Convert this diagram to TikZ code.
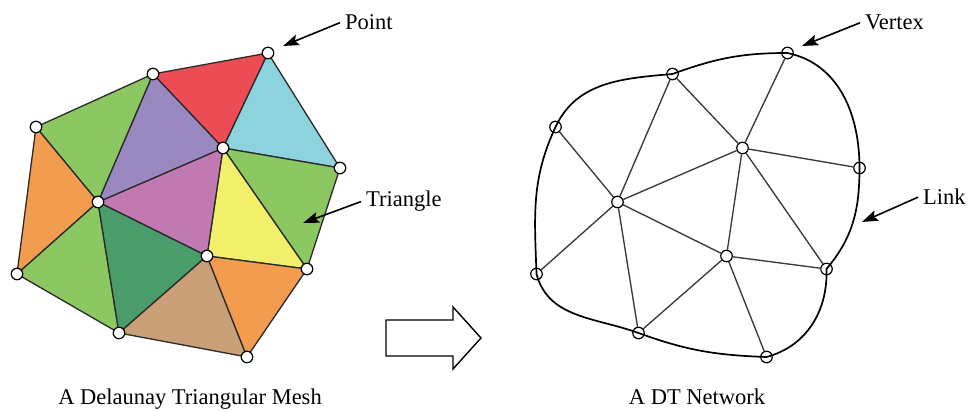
\documentclass[tikz,border=0pt]{standalone}
\usepackage{fontspec}
\setmainfont{Liberation Serif}
\usetikzlibrary{arrows.meta}
\definecolor{cRed}{HTML}{EC4D55}
\definecolor{cCyan}{HTML}{8DD3DE}
\definecolor{cLilac}{HTML}{9A89C0}
\definecolor{cLeaf}{HTML}{8CC862}
\definecolor{cOrange}{HTML}{F29C4F}
\definecolor{cMauve}{HTML}{C17AB1}
\definecolor{cLemon}{HTML}{F2EF6B}
\definecolor{cPine}{HTML}{4A9C6A}
\definecolor{cTan}{HTML}{C9A077}
\definecolor{cEdge}{HTML}{2A2A2A}
\definecolor{cLink}{HTML}{3A3A3A}
\tikzset{
    x=1pt, y=1pt, font=\fontsize{22.5}{27}\selectfont,
    tri/.style={draw=cEdge, line width=1.3pt, line join=round},
    pnt/.style={circle, draw=black, fill=white, line width=1.2pt,
                inner sep=0pt, minimum size=11.5pt},
    link/.style={draw=cLink, line width=1.35pt},
    rim/.style={draw=black, line width=1.7pt},
    callout/.style={-{Stealth[length=16pt, width=11pt, inset=3pt]},
                    line width=1.6pt},
    lbl/.style={inner xsep=5pt, inner ysep=0pt, anchor=base west},
    caption/.style={anchor=base, inner sep=0pt},
}

\begin{document}
\begin{tikzpicture}
    \useasboundingbox (0,0) rectangle (968,411);

    % mesh points
    \foreach \n/\x/\y in {1/268/358, 2/153/337, 3/36/284, 4/223/263,
            5/340/243, 6/98/209, 7/17/137, 8/207/155, 9/307/142,
            10/119/78, 11/247/54}
        \coordinate (c\n) at (\x,\y);

    \foreach \i/\j/\k/\col in {2/1/4/cRed, 1/5/4/cCyan, 4/5/9/cLeaf,
            4/9/8/cLemon, 6/4/8/cMauve, 2/4/6/cLilac, 3/2/6/cLeaf,
            3/6/7/cOrange, 6/7/10/cLeaf, 6/8/10/cPine, 8/10/11/cTan,
            8/9/11/cOrange}
        \draw[tri, fill=\col] (c\i) -- (c\j) -- (c\k) -- cycle;

    \foreach \n in {1,...,11}
        \node[pnt] (p\n) at (c\n) {};

    % network
    \foreach \n in {1,...,11}
        \node[pnt] (v\n) at ([xshift=519.5pt]c\n) {};

    \foreach \i/\j in {3/6, 2/6, 2/4, 1/4, 4/6, 4/5, 4/8, 4/9, 6/8, 6/7,
            6/10, 8/10, 8/9, 8/11}
        \draw[link] (v\i) -- (v\j);

    \draw[rim] (v1.center) to[out=-12, in=90] (v5.center)
        to[out=-90, in=50] (v9.center)
        to[out=-88, in=15] (v11.center)
        to[out=178, in=-20] (v10.center)
        to[out=160, in=-75] (v7.center)
        to[out=92, in=-115] (v3.center)
        to[out=65, in=185] (v2.center)
        to[out=20, in=180] (v1.center);

    % callouts
    \node[lbl] (tPoint) at (340,381) {Point};
    \coordinate (aPoint) at (283,365);
    \draw[callout] (tPoint.west) -- (aPoint);

    \node[lbl] (tTri) at (361,204) {Triangle};
    \coordinate (aTri) at (303,188);
    \draw[callout] (tTri.west) -- (aTri);

    \node[lbl] (tVertex) at (860,381) {Vertex};
    \coordinate (aVertex) at (802,365);
    \draw[callout] (tVertex.west) -- (aVertex);

    \node[lbl] (tLink) at (918,206) {Link};
    \coordinate (aLink) at (862,189);
    \draw[callout] (tLink.west) -- (aLink);

    % transform arrow
    \draw[line width=1.4pt] (386,55) -- (453,55) -- (453,42) -- (481,73)
        -- (453,104) -- (453,91) -- (386,91) -- cycle;

    \node[caption] (capMesh) at (190,6) {A Delaunay Triangular Mesh};
    \node[caption] (capNet) at (697,6) {A DT Network};
\end{tikzpicture}
\end{document}
